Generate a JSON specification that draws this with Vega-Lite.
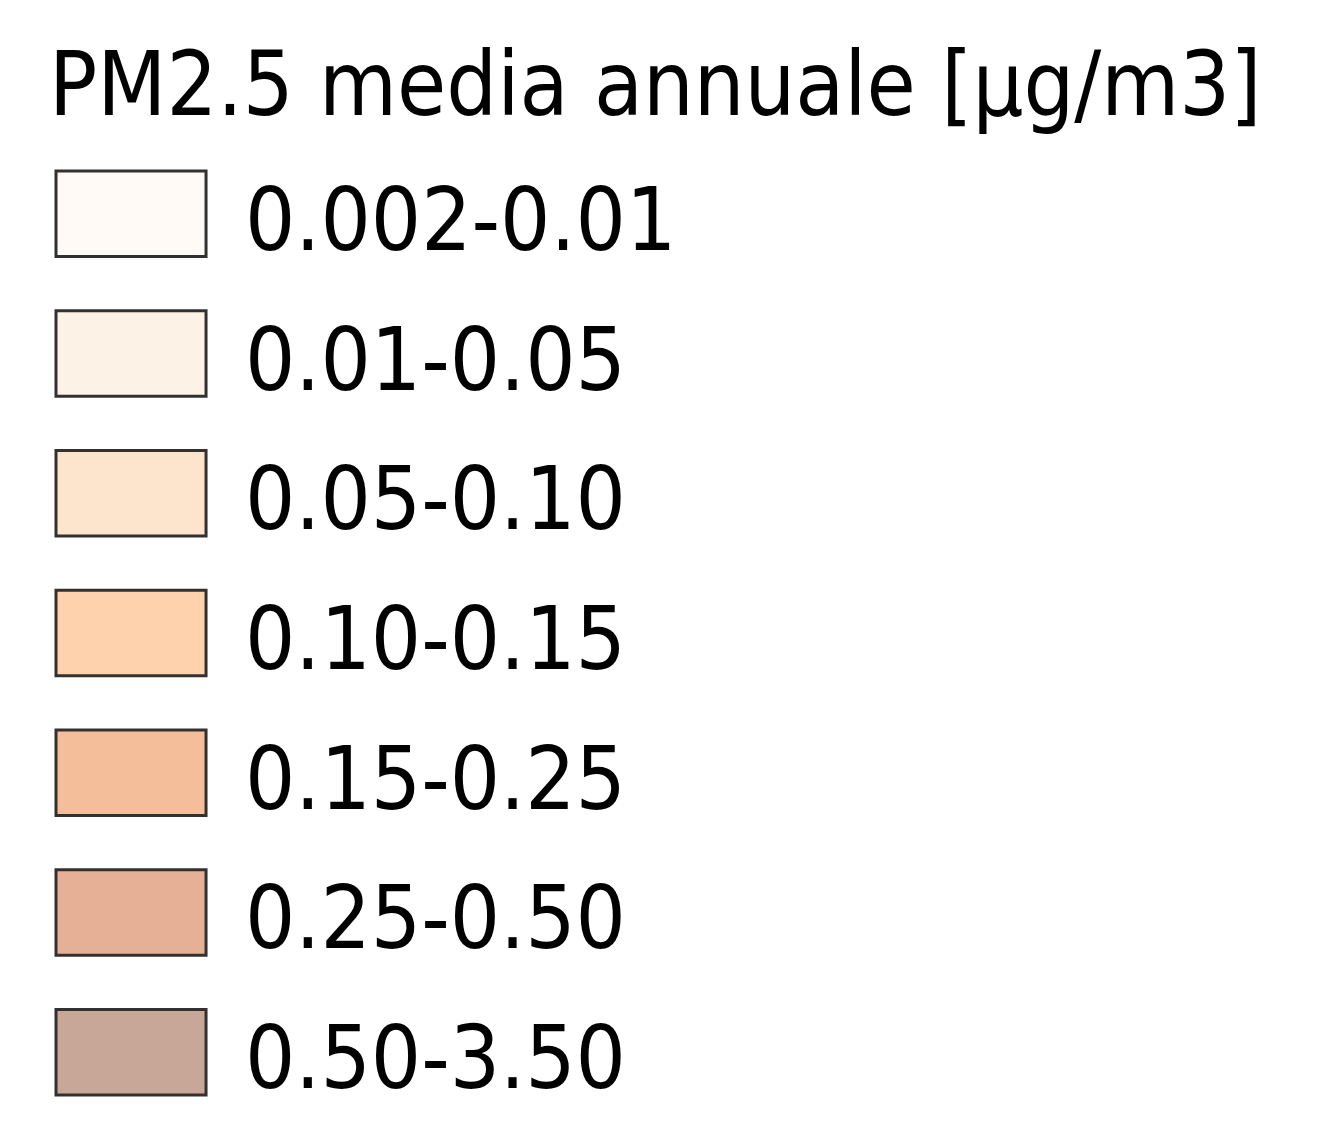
{
  "$schema": "https://vega.github.io/schema/vega-lite/v6.json",
  "autosize": {"type": "none"},
  "padding": {"top": 150, "left": 0, "right": 0, "bottom": 0},
  "width": 1329,
  "height": 996,
  "background": "white",
  "config": {"view": {"stroke": null}},
  "title": {
    "text": "PM2.5 media annuale [µg/m3]",
    "anchor": "start",
    "frame": "group",
    "font": "DejaVu Sans Condensed",
    "fontSize": 89,
    "fontWeight": "normal",
    "color": "#000000",
    "baseline": "alphabetic",
    "offset": -54,
    "dx": 49
  },
  "data": {
    "values": [
      {"classe": "0.002-0.01"},
      {"classe": "0.01-0.05"},
      {"classe": "0.05-0.10"},
      {"classe": "0.10-0.15"},
      {"classe": "0.15-0.25"},
      {"classe": "0.25-0.50"},
      {"classe": "0.50-3.50"}
    ]
  },
  "encoding": {
    "y": {
      "field": "classe",
      "type": "nominal",
      "sort": null,
      "axis": null,
      "scale": {"range": [21, 945], "paddingInner": 0.388, "paddingOuter": 0}
    }
  },
  "layer": [
    {
      "mark": {"type": "rect", "stroke": "#333130", "strokeWidth": 3},
      "encoding": {
        "x": {
          "datum": "simbolo",
          "type": "nominal",
          "axis": null,
          "scale": {"domain": ["simbolo", "etichetta"], "range": [56, 395], "paddingInner": 0.206, "paddingOuter": 0}
        },
        "color": {
          "field": "classe",
          "type": "nominal",
          "legend": null,
          "scale": {
            "domain": ["0.002-0.01", "0.01-0.05", "0.05-0.10", "0.10-0.15", "0.15-0.25", "0.25-0.50", "0.50-3.50"],
            "range": ["#fffaf5", "#fdf2e6", "#fde5cd", "#fed2ad", "#f5be9a", "#e5b096", "#c8a698"]
          }
        }
      }
    },
    {
      "mark": {
        "type": "text",
        "align": "left",
        "baseline": "alphabetic",
        "font": "DejaVu Sans Condensed",
        "fontSize": 88,
        "color": "#000000",
        "dy": 36
      },
      "encoding": {
        "x": {"datum": "etichetta", "type": "nominal", "bandPosition": 0},
        "text": {"field": "classe"}
      }
    }
  ]
}
